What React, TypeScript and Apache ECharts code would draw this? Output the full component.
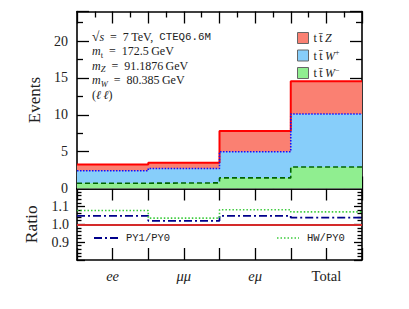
import React, { useEffect, useRef } from 'react';
import * as echarts from 'echarts';

const categories = ['ee', 'μμ', 'eμ', 'Total'];
const categoryItalic = [true, true, true, false];
const binEdges = [0, 1, 2, 3, 4];
// stacked components (events)
const ttWminus = [0.72, 0.76, 1.44, 2.92];
const ttWplus = [1.68, 1.96, 3.54, 7.18];
const ttZ = [0.87, 0.76, 2.82, 4.45];
// ratio panel
const ratioPY1 = [1.047, 1.019, 1.047, 1.037];
const ratioHW = [1.077, 1.034, 1.081, 1.069];
const eventsTickLabels = [0, 5, 10, 15, 20];
const ratioTickLabels = [0.9, 1.0, 1.1];

const SERIF = 'Liberation Serif';
const MONO = 'Liberation Mono';

function stepData(vals: number[]) {
  const pts: number[][] = vals.map((v, i) => [binEdges[i], v]);
  pts.push([binEdges[vals.length], vals[vals.length - 1]]);
  return pts;
}

export default function App() {
  const ref = useRef<HTMLDivElement>(null);
  useEffect(() => {
    if (!ref.current) return;
    const chart = echarts.init(ref.current, undefined, { renderer: 'svg' });
    const green = ttWminus.slice();
    const blue = ttWminus.map((v, i) => v + ttWplus[i]);
    const red = blue.map((v, i) => v + ttZ[i]);

    const axisLine = { show: true, onZero: false, lineStyle: { color: '#000', width: 1.6 } };
    const tickStyle = { color: '#000', width: 1.3 };

    const topX = (pos: 'top' | 'bottom') => ({
      type: 'value', gridIndex: 0, position: pos, min: 0, max: 4, interval: 0.5,
      axisLine, axisTick: { show: true, inside: true, length: 12, lineStyle: tickStyle },
      minorTick: { show: true, splitNumber: 2, length: 6, lineStyle: tickStyle },
      axisLabel: { show: false }, splitLine: { show: false },
    });
    const botX = (pos: 'top' | 'bottom') => ({
      type: 'value', gridIndex: 1, position: pos, min: 0, max: 4, interval: 0.5,
      axisLine, axisTick: { show: true, inside: true, length: 12, lineStyle: tickStyle },
      axisLabel: pos === 'bottom' ? {
        show: true, margin: 8, fontFamily: SERIF, fontSize: 14.5, color: '#222',
        formatter: (v: number) => {
          const i = Math.floor(v);
          if (Math.abs(v - i - 0.5) < 1e-6 && i < categories.length) {
            return categoryItalic[i] ? '{i|' + categories[i] + '}' : '{n|' + categories[i] + '}';
          }
          return '';
        },
        rich: {
          i: { fontFamily: SERIF, fontSize: 14.5, fontStyle: 'italic', color: '#222' },
          n: { fontFamily: SERIF, fontSize: 14.5, color: '#222' },
        },
      } : { show: false },
      splitLine: { show: false },
    });
    const topY = (pos: 'left' | 'right') => ({
      type: 'value', gridIndex: 0, position: pos, min: 0, max: 24, interval: 5,
      axisLine, axisTick: { show: true, inside: true, length: 12, lineStyle: tickStyle },
      minorTick: { show: true, splitNumber: 2, length: 6, lineStyle: tickStyle },
      axisLabel: pos === 'left' ? {
        show: true, margin: 9, fontFamily: SERIF, fontSize: 14, color: '#222',
        formatter: (v: number) => (eventsTickLabels.includes(v) ? String(v) : ''),
      } : { show: false },
      splitLine: { show: false },
      name: pos === 'left' ? 'Events' : '',
      nameLocation: 'middle', nameGap: 31,
      nameTextStyle: { fontFamily: SERIF, fontSize: 17, color: '#222' },
    });
    const botY = (pos: 'left' | 'right') => ({
      type: 'value', gridIndex: 1, position: pos, min: 0.8, max: 1.2, interval: 0.1,
      axisLine, axisTick: { show: true, inside: true, length: 8, lineStyle: tickStyle },
      minorTick: { show: true, splitNumber: 5, length: 4.5, lineStyle: tickStyle },
      axisLabel: pos === 'left' ? {
        show: true, margin: 8, fontFamily: SERIF, fontSize: 14, color: '#222',
        formatter: (v: number) => {
          const hit = ratioTickLabels.find((t) => Math.abs(t - v) < 1e-6);
          return hit !== undefined ? hit.toFixed(1) : '';
        },
      } : { show: false },
      splitLine: { show: false },
      name: pos === 'left' ? 'Ratio' : '',
      nameLocation: 'middle', nameGap: 37,
      nameTextStyle: { fontFamily: SERIF, fontSize: 17.5, color: '#222' },
    });

    const area = (name: string, vals: number[], color: string) => ({
      name, type: 'line', step: 'end', xAxisIndex: 0, yAxisIndex: 0,
      data: stepData(vals), symbol: 'none', z: 1,
      lineStyle: { width: 0, color }, itemStyle: { color },
      areaStyle: { color, opacity: 1 }, silent: true,
    });
    const edge = (vals: number[], color: string, type: any, width: number) => ({
      type: 'line', step: 'end', xAxisIndex: 0, yAxisIndex: 0,
      data: stepData(vals), symbol: 'none', z: 3, silent: true,
      lineStyle: { width, color, type },
    });

    const baseText = { fontFamily: SERIF, fontSize: 12, fill: '#222' };
    const rich = {
      n: { fontFamily: SERIF, fontSize: 12, fill: '#222', lineHeight: 16, verticalAlign: 'middle' },
      r: { fontFamily: SERIF, fontSize: 13.5, fill: '#222', lineHeight: 16, verticalAlign: 'middle' },
      i: { fontFamily: SERIF, fontSize: 12, fontStyle: 'italic', fill: '#222', lineHeight: 16, verticalAlign: 'middle' },
      sub: { fontFamily: SERIF, fontSize: 8.5, fill: '#222', lineHeight: 9, verticalAlign: 'bottom' },
      subi: { fontFamily: SERIF, fontSize: 8.5, fontStyle: 'italic', fill: '#222', lineHeight: 9, verticalAlign: 'bottom' },
      tt: { fontFamily: MONO, fontSize: 10.8, fill: '#222', lineHeight: 16, verticalAlign: 'middle' },
    };
    const EQ = '\u2002=\u2002';
    const annot = [
      '{r|√}{i|s}{n|' + EQ + '7\u2009TeV,\u2002}{tt|CTEQ6.6M}',
      '{i|m}{sub|t}{n|' + EQ + '172.5\u2009GeV}',
      '{i|m}{subi|Z}{n|' + EQ + '91.1876\u2009GeV}',
      '{i|m}{subi|W}{n|' + EQ + '80.385\u2009GeV}',
      '{n|(}{i|ℓ\u2009ℓ}{n|)}',
    ];
    const annotY = [36.5, 51, 65.5, 80, 94.5];

    const ratioLegend = (x: number, len: number, color: string, dash: number[], width: number, label: string) => ([
      {
        type: 'line', z: 10, silent: true,
        shape: { x1: x, y1: 238, x2: x + len, y2: 238 },
        style: { stroke: color, lineWidth: width, lineDash: dash },
      },
      {
        type: 'text', z: 10, silent: true, x: x + len + 8, y: 238,
        style: { text: label, fontFamily: MONO, fontSize: 10.5, fill: '#222', verticalAlign: 'middle', align: 'left' },
      },
    ]);

    chart.setOption({
      animation: false,
      backgroundColor: '#fff',
      grid: [
        { left: 77, top: 11.5, width: 285, height: 177 },
        { left: 77, top: 188.5, width: 285, height: 71.5 },
      ],
      xAxis: [topX('bottom'), topX('top'), botX('bottom'), botX('top')],
      yAxis: [topY('left'), topY('right'), botY('left'), botY('right')],
      legend: [
        {
          data: ['ttZ', 'ttWp', 'ttWm'], orient: 'vertical', left: 292, top: 27,
          icon: 'rect', itemWidth: 11, itemHeight: 11, itemGap: 4.5, selectedMode: false,
          itemStyle: { borderColor: '#666', borderWidth: 1 },
          textStyle: {
            fontFamily: SERIF, fontSize: 12, color: '#222',
            rich: {
              n: { fontFamily: SERIF, fontSize: 12, color: '#222' },
              i: { fontFamily: SERIF, fontSize: 12, fontStyle: 'italic', color: '#222' },
              sup: { fontFamily: SERIF, fontSize: 8, color: '#222', verticalAlign: 'top', lineHeight: 14 },
            },
          },
          formatter: (name: string) => {
            if (name === 'ttZ') return '{n|t\u2009t\u0304\u2009}{i|Z}';
            if (name === 'ttWp') return '{n|t\u2009t\u0304\u2009}{i|W}{sup|+}';
            return '{n|t\u2009t\u0304\u2009}{i|W}{sup|\u2212}';
          },
        },
      ],
      series: [
        area('ttZ', red, '#fa8072'),
        area('ttWp', blue, '#87cefa'),
        area('ttWm', green, '#90ee90'),
        edge(red, '#ff0000', 'solid', 2),
        edge(blue, '#1010ff', [1.5, 1.5], 1.6),
        edge(green, '#006400', [5, 3], 1.6),
        {
          name: 'PY1/PY0', type: 'line', step: 'end', xAxisIndex: 2, yAxisIndex: 2,
          data: stepData(ratioPY1), symbol: 'none', z: 3, silent: true,
          itemStyle: { color: '#00008b' },
          lineStyle: { color: '#00008b', width: 1.8, type: [8, 3, 2, 3] },
          markLine: {
            silent: true, symbol: 'none', label: { show: false },
            lineStyle: { color: '#d42a2a', width: 1.8, type: 'solid' },
            data: [{ yAxis: 1 }],
          },
        },
        {
          name: 'HW/PY0', type: 'line', step: 'end', xAxisIndex: 2, yAxisIndex: 2,
          data: stepData(ratioHW), symbol: 'none', z: 3, silent: true,
          itemStyle: { color: '#3ccc3c' },
          lineStyle: { color: '#3ccc3c', width: 1.6, type: [1.5, 2] },
        },
      ],
      graphic: [
        ...annot.map((t, k) => ({
          type: 'text', x: 92, y: annotY[k], z: 10, silent: true,
          style: { ...baseText, text: t, rich, verticalAlign: 'middle', align: 'left' },
        })),
        ...ratioLegend(94, 24, '#00008b', [8, 3, 2, 3], 1.8, 'PY1/PY0'),
        ...ratioLegend(277, 22, '#3ccc3c', [1.5, 2], 1.6, 'HW/PY0'),
      ],
    } as any);
    return () => chart.dispose();
  }, []);
  return (
    <div
      ref={ref}
      style={{ position: 'fixed', left: 0, top: 0, width: 409, height: 309, background: '#fff' }}
    />
  );
}
